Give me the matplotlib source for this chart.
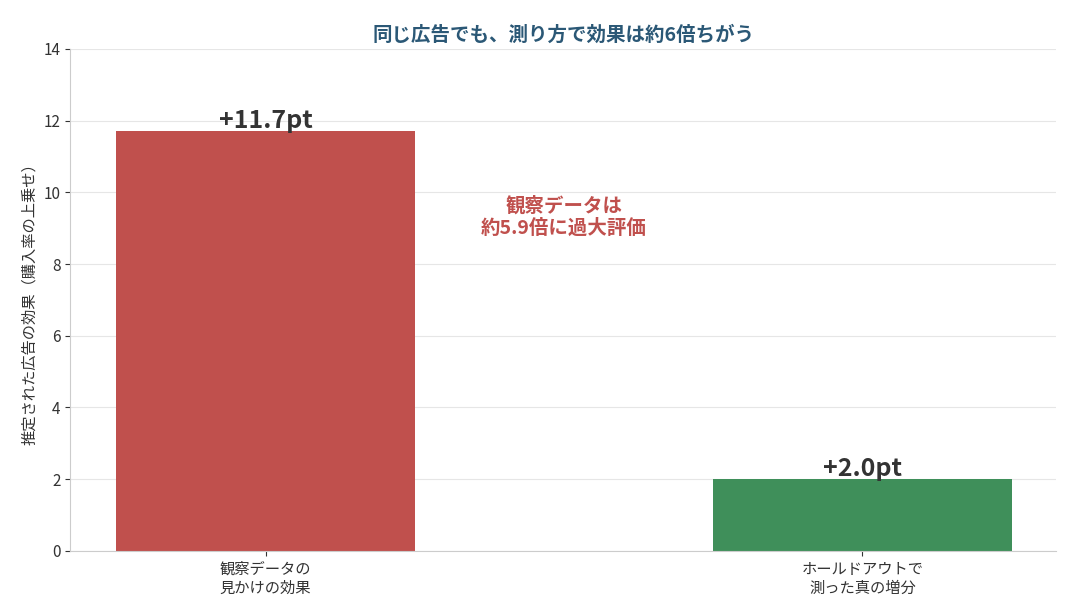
import matplotlib
matplotlib.use("Agg")
import matplotlib.pyplot as plt

plt.rcParams['font.family'] = ['Noto Sans CJK JP', 'DejaVu Sans']

categories = ["観察データの\n見かけの効果", "ホールドアウトで\n測った真の増分"]
values = [11.7, 2.0]
labels = ["+11.7pt", "+2.0pt"]
colors = ["#c0504d", "#3f8f5a"]

fig, ax = plt.subplots(figsize=(10.67, 6.12), dpi=100)
x = [0, 1]
ax.bar(x, values, width=0.5, color=colors, zorder=2)
for xi, v, l in zip(x, values, labels):
    ax.text(xi, v - 0.05, l, ha='center', va='bottom', fontsize=18, fontweight='bold', color='#333333')
ax.text(0.5, 9.3, "観察データは\n約5.9倍に過大評価", ha='center', va='center', fontsize=14,
        fontweight='bold', color='#c0504d', linespacing=1.2)
ax.set_xticks(x)
ax.set_xticklabels(categories, fontsize=11, linespacing=1.2)
ax.set_ylim(0, 14)
ax.set_yticks(range(0, 15, 2))
ax.set_xlim(-0.327, 1.325)
ax.set_ylabel("推定された広告の効果（購入率の上乗せ）", fontsize=11, color='#333333')
ax.set_title("同じ広告でも、測り方で効果は約6倍ちがう", fontsize=14, fontweight='bold', color='#2b5876')
ax.grid(axis='y', color='#e6e6e6', zorder=0)
for s in ['top', 'right']:
    ax.spines[s].set_visible(False)
for s in ['left', 'bottom']:
    ax.spines[s].set_color('#cccccc')
ax.tick_params(colors='#333333', labelsize=11)
plt.subplots_adjust(left=0.066, right=0.99, top=0.92, bottom=0.1)
fig.savefig("out.png")
